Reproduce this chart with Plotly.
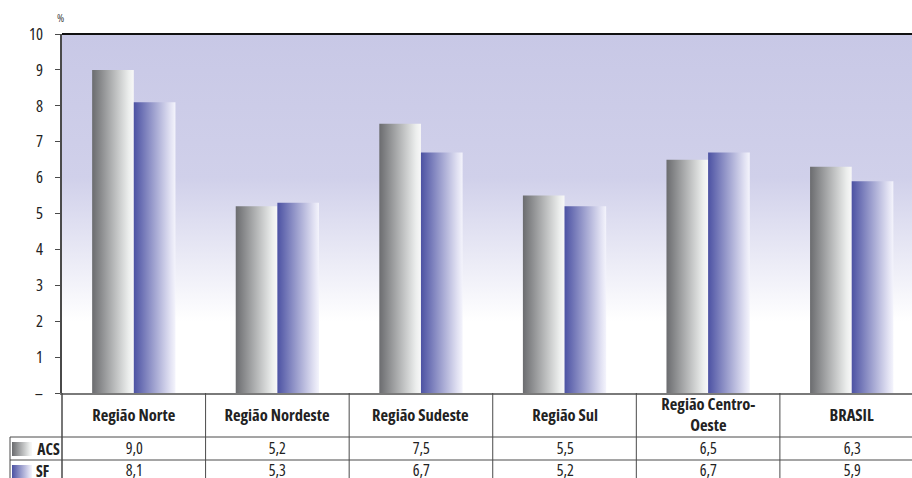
import base64
import plotly.graph_objects as go

# ---------------- data ----------------
categories = ["Região Norte", "Região Nordeste", "Região Sudeste", "Região Sul",
              "Região Centro-<br>Oeste", "BRASIL"]
series_names = ["ACS", "SF"]
acs_values = [9.0, 5.2, 7.5, 5.5, 6.5, 6.3]
sf_values = [8.1, 5.3, 6.7, 5.2, 6.7, 5.9]
y_tick_vals = [0, 1, 2, 3, 4, 5, 6, 7, 8, 9, 10]
y_tick_text = ["–", "1", "2", "3", "4", "5", "6", "7", "8", "9", "10"]
unit_label = "%"

# ---------------- style ----------------
FONT = "Open Sans, Noto Sans, sans-serif"
TXT = "#222222"
LINE = "#4a4a4a"
W, H = 912, 478
ML, MT = 62, 34
PLOT_BOTTOM = 393
plot_h = PLOT_BOTTOM - MT
X_MIN, X_MAX = -0.5, 5.42
BAR_W = 0.29

gray_scale = [[0, "#6b6c6f"], [0.88, "#eceeed"], [1, "#f8f8f8"]]
blue_scale = [[0, "#4c52a3"], [0.88, "#e2e2f3"], [1, "#f4f4fc"]]
bg_scale = [[0, "#ffffff"], [0.2, "#ffffff"], [0.6, "#d0d0ea"], [1, "#c8c8e6"]]


def fnt(size, color=TXT, weight="normal"):
    return dict(family=FONT, size=size, color=color, weight=weight)


def py(p):
    """pixel row -> paper y"""
    return (PLOT_BOTTOM - p) / plot_h


def xpaper(v):
    return (v - X_MIN) / (X_MAX - X_MIN)


fig = go.Figure()

# plot background gradient
fig.add_trace(go.Scatter(
    x=[X_MIN, X_MAX, X_MAX, X_MIN, X_MIN], y=[0, 0, 10, 10, 0],
    mode="lines", line=dict(width=0), fill="toself",
    fillgradient=dict(type="vertical", colorscale=bg_scale, start=0, stop=10),
    hoverinfo="skip", showlegend=False))

# bars
for vals, scale, side, name in [(acs_values, gray_scale, -1, "ACS"),
                                (sf_values, blue_scale, 1, "SF")]:
    for i, v in enumerate(vals):
        x0 = i if side > 0 else i - BAR_W
        x1 = i + BAR_W if side > 0 else i
        fig.add_trace(go.Scatter(
            x=[x0, x1, x1, x0, x0], y=[0, 0, v, v, 0],
            mode="lines", line=dict(width=0), fill="toself",
            fillgradient=dict(type="horizontal", colorscale=scale),
            name=name, text=f"{name}: {v:.1f}".replace(".", ","),
            hoverinfo="text", showlegend=False))

shapes = []
# top border
shapes.append(dict(type="line", xref="paper", yref="paper", x0=0, x1=1, y0=1, y1=1,
                   line=dict(color="#111111", width=2)))
# left axis extension through header row and table
shapes.append(dict(type="line", xref="paper", yref="paper", x0=0, x1=0, y0=0, y1=py(H + 5),
                   line=dict(color=LINE, width=1.5)))
# column dividers
for i in range(len(categories)):
    xp = xpaper(i + 0.5)
    if xp <= 1:
        shapes.append(dict(type="line", xref="paper", yref="paper", x0=xp, x1=xp,
                           y0=0, y1=py(H + 5), line=dict(color=LINE, width=1)))
# horizontal table lines
lx = (10 - ML) / (W - ML)
for p in [437, 460]:
    shapes.append(dict(type="line", xref="paper", yref="paper", x0=lx, x1=1.02,
                       y0=py(p), y1=py(p), line=dict(color=LINE, width=1)))
shapes.append(dict(type="line", xref="paper", yref="paper", x0=lx, x1=lx,
                   y0=py(437), y1=py(H + 5), line=dict(color=LINE, width=1)))

annotations = []
annotations.append(dict(text=unit_label, x=(60 - ML) / (W - ML), y=py(17), xref="paper",
                        yref="paper", showarrow=False, xanchor="center", yanchor="middle",
                        font=fnt(11, "#444444")))
for i, c in enumerate(categories):
    annotations.append(dict(text=c, x=i, y=py(414), xref="x", yref="paper",
                            showarrow=False, xanchor="center", yanchor="middle",
                            font=fnt(16.5, weight="bold")))
for row_y, vals, name in [(448, acs_values, "ACS"), (470, sf_values, "SF")]:
    for i, v in enumerate(vals):
        annotations.append(dict(text=f"{v:.1f}".replace(".", ","), x=i, y=py(row_y),
                                xref="x", yref="paper", showarrow=False,
                                xanchor="center", yanchor="middle",
                                font=fnt(16)))
    annotations.append(dict(text=name, x=(32 - ML) / (W - ML), y=py(row_y + 1),
                            xref="paper", yref="paper", showarrow=False,
                            xanchor="left", yanchor="middle",
                            font=fnt(15.5, weight="bold")))


def grad_svg(scale):
    stops = "".join(f'<stop offset="{o}" stop-color="{c}"/>' for o, c in scale)
    svg = ('<svg xmlns="http://www.w3.org/2000/svg" width="20" height="14">'
           f'<defs><linearGradient id="g" x1="0" x2="1" y1="0" y2="0">{stops}'
           '</linearGradient></defs><rect width="20" height="14" fill="url(#g)"/></svg>')
    return "data:image/svg+xml;base64," + base64.b64encode(svg.encode()).decode()


images = []
for top, scale in [(442, gray_scale), (465, blue_scale)]:
    images.append(dict(source=grad_svg(scale), xref="paper", yref="paper",
                       x=(12 - ML) / (W - ML), y=py(top), sizex=20 / (W - ML),
                       sizey=14 / plot_h, sizing="stretch", xanchor="left",
                       yanchor="top", layer="above"))

fig.update_layout(
    width=W, height=H,
    margin=dict(l=ML, r=0, t=MT, b=H - PLOT_BOTTOM, pad=0),
    paper_bgcolor="white", plot_bgcolor="white",
    font=fnt(14),
    showlegend=False,
    xaxis=dict(range=[X_MIN, X_MAX], showticklabels=False, ticks="", showgrid=False,
               zeroline=False, showline=True, linecolor="#7a7a7a", linewidth=2,
               fixedrange=True),
    yaxis=dict(range=[0, 10], tickvals=y_tick_vals, ticktext=y_tick_text,
               ticks="outside", ticklen=5, tickcolor=LINE, tickwidth=1,
               showgrid=False, zeroline=False, showline=True, linecolor=LINE,
               linewidth=1.5, ticklabelstandoff=9, fixedrange=True,
               tickfont=fnt(16.5)),
    shapes=shapes, annotations=annotations, images=images,
)

post = ("document.body.style.margin='0';"
        "var s=document.createElement('style');"
        "s.textContent='svg text{font-stretch:75% !important;}';"
        "document.head.appendChild(s);")
fig.write_html("out.html", post_script=post, config={"displayModeBar": False})
